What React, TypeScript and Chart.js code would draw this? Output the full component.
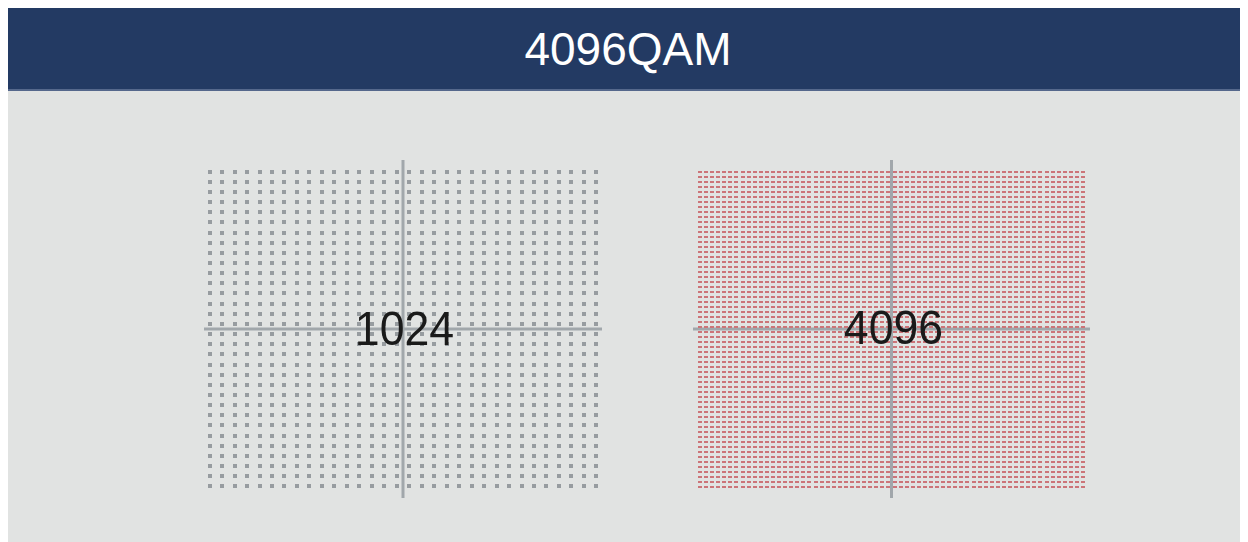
import React, { useEffect, useRef } from "react";
import { Chart, registerables } from "chart.js";

Chart.register(...registerables);

const TITLE = "4096QAM";
const LABEL_LEFT = "1024";
const LABEL_RIGHT = "4096";

// I/Q amplitude levels of each constellation
const LEVELS_1024 = [
  -31, -29, -27, -25, -23, -21, -19, -17, -15, -13, -11, -9, -7, -5, -3, -1,
  1, 3, 5, 7, 9, 11, 13, 15, 17, 19, 21, 23, 25, 27, 29, 31,
];
const LEVELS_4096 = [
  -63, -61, -59, -57, -55, -53, -51, -49, -47, -45, -43, -41, -39, -37, -35, -33,
  -31, -29, -27, -25, -23, -21, -19, -17, -15, -13, -11, -9, -7, -5, -3, -1,
  1, 3, 5, 7, 9, 11, 13, 15, 17, 19, 21, 23, 25, 27, 29, 31,
  33, 35, 37, 39, 41, 43, 45, 47, 49, 51, 53, 55, 57, 59, 61, 63,
];

function constellation(levels: number[]) {
  const pts: { x: number; y: number }[] = [];
  for (const i of levels) for (const q of levels) pts.push({ x: i, y: q });
  return pts;
}

function dotImage(w: number, h: number, color: string) {
  const c = document.createElement("canvas");
  c.width = w;
  c.height = h;
  const g = c.getContext("2d")!;
  g.fillStyle = color;
  g.fillRect(0, 0, w, h);
  return c;
}

function makePlugin(label: string, dx: number, dy: number) {
  return {
    id: "qamAxes",
    beforeDatasetsDraw(chart: any) {
      const { ctx, chartArea, scales } = chart;
      const x0 = scales.x.getPixelForValue(0);
      const y0 = scales.y.getPixelForValue(0);
      ctx.save();
      ctx.strokeStyle = "#a1a7ab";
      ctx.lineWidth = 3;
      ctx.beginPath();
      ctx.moveTo(x0, chartArea.top);
      ctx.lineTo(x0, chartArea.bottom);
      ctx.moveTo(chartArea.left, y0);
      ctx.lineTo(chartArea.right, y0);
      ctx.stroke();
      ctx.restore();
    },
    afterDatasetsDraw(chart: any) {
      const { ctx, scales } = chart;
      const x0 = scales.x.getPixelForValue(0);
      const y0 = scales.y.getPixelForValue(0);
      ctx.save();
      ctx.translate(x0 + dx, y0 + dy);
      ctx.scale(0.93, 1);
      ctx.font = '48px "Liberation Sans", Arial, sans-serif';
      ctx.fillStyle = "#1a1a1a";
      ctx.textAlign = "center";
      ctx.textBaseline = "alphabetic";
      ctx.fillText(label, 0, 0);
      ctx.restore();
    },
  };
}

function Panel(props: {
  levels: number[];
  xr: number;
  yr: number;
  dot: [number, number, string];
  label: string;
  dx: number;
  dy: number;
  left: number;
  top: number;
  width: number;
  height: number;
}) {
  const ref = useRef<HTMLCanvasElement>(null);
  useEffect(() => {
    if (!ref.current) return;
    const img = dotImage(props.dot[0], props.dot[1], props.dot[2]);
    const chart = new Chart(ref.current, {
      type: "scatter",
      data: {
        datasets: [
          {
            data: constellation(props.levels),
            pointStyle: img as any,
            pointRadius: 2,
            pointHoverRadius: 2,
            borderWidth: 0,
            backgroundColor: props.dot[2],
          },
        ],
      },
      options: {
        animation: false,
        responsive: false,
        maintainAspectRatio: false,
        events: [],
        layout: { padding: 0, autoPadding: false },
        plugins: { legend: { display: false }, tooltip: { enabled: false }, title: { display: false } },
        scales: {
          x: { type: "linear", min: -props.xr, max: props.xr, display: false },
          y: { type: "linear", min: -props.yr, max: props.yr, display: false },
        },
      },
      plugins: [makePlugin(props.label, props.dx, props.dy)],
    });
    return () => chart.destroy();
  }, []);
  return (
    <canvas
      ref={ref}
      width={props.width}
      height={props.height}
      style={{
        position: "absolute",
        left: props.left,
        top: props.top,
        width: props.width,
        height: props.height,
      }}
    />
  );
}

export default function App() {
  useEffect(() => {
    document.documentElement.style.overflow = "hidden";
    document.body.style.overflow = "hidden";
  }, []);
  return (
    <div
      style={{
        position: "relative",
        width: 1240,
        height: 534,
        background: "#e1e3e2",
        overflow: "hidden",
      }}
    >
      <div
        style={{
          position: "absolute",
          left: 0,
          top: 0,
          width: 1240,
          height: 80,
          background: "#233a63",
          borderBottom: "2px solid #55688c",
          color: "#ffffff",
          font: '46px "Liberation Sans", Arial, sans-serif',
          lineHeight: "80px",
          textAlign: "center",
          paddingTop: 1,
          boxSizing: "content-box",
        }}
      >
        {TITLE}
      </div>
      <Panel
        levels={LEVELS_1024}
        xr={31.9}
        yr={33.3}
        dot={[4, 4, "#979ca0"]}
        label={LABEL_LEFT}
        dx={1.5}
        dy={16}
        left={196}
        top={152}
        width={398}
        height={338}
      />
      <Panel
        levels={LEVELS_4096}
        xr={65.3}
        yr={67.6}
        dot={[4, 2, "#cc7478"]}
        label={LABEL_RIGHT}
        dx={2}
        dy={15}
        left={685}
        top={152}
        width={397}
        height={338}
      />
    </div>
  );
}
